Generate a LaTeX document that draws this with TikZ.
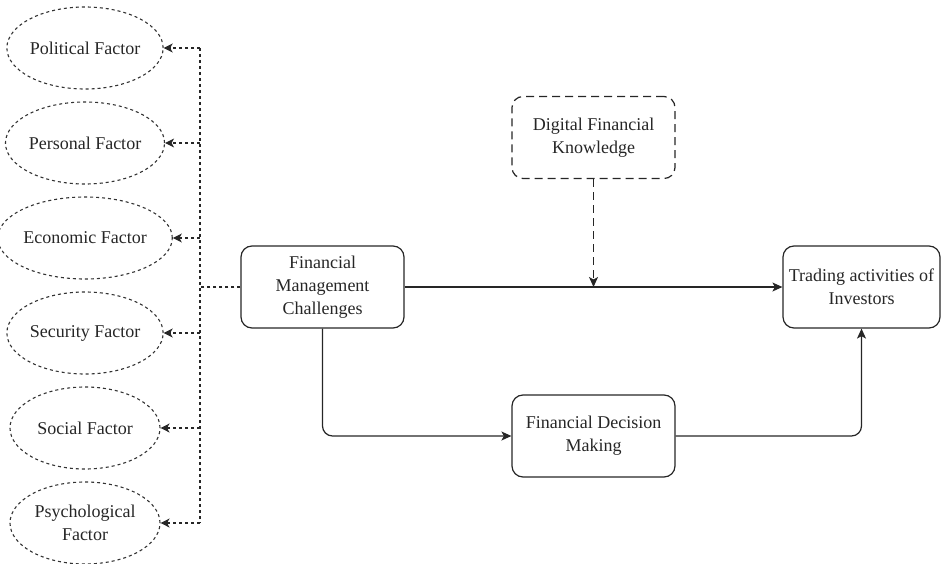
\documentclass[tikz,border=0pt]{standalone}
\usepackage{fontspec}
\setmainfont{Liberation Serif}
\usetikzlibrary{arrows.meta,shapes.geometric,calc}
\begin{document}
\begin{tikzpicture}[x=1pt,y=-1pt,
  txt/.style={font=\fontsize{18}{23}\selectfont, align=center, text=black!85},
  factor/.style={txt, draw=black!80, ellipse, dash pattern=on 3pt off 3pt, line width=1.1pt, minimum width=150pt, minimum height=82pt, inner sep=0pt},
  box/.style={txt, draw=black!85, rounded corners=11pt, line width=1.2pt, minimum width=163pt, minimum height=82pt, inner sep=2pt},
  dbox/.style={box, dash pattern=on 8pt off 5pt},
  link/.style={line width=1.2pt, draw=black!85, -{Stealth[length=10pt,width=9pt,inset=2.5pt]}},
  dlink/.style={line width=1.1pt, draw=black!85, dash pattern=on 3pt off 3pt, -{Stealth[length=9pt,width=9pt,inset=2.5pt]}}
]
\useasboundingbox (0,0) rectangle (942,564);

\node[factor] (pol) at (85,48) {Political Factor};
\node[factor] (per) at (85,143) {Personal Factor};
\node[factor] (eco) at (85,238) {Economic Factor};
\node[factor] (sec) at (85,333) {Security Factor};
\node[factor] (soc) at (85,428) {Social Factor};
\node[factor] (psy) at (85,523) {Psychological\\Factor};

\node[box] (fmc) at (322.5,287) {Financial\\Management\\Challenges};
\node[box, minimum width=157pt] (trd) at (861.5,287) {Trading activities of\\Investors};
\node[dbox] (dfk) at (593.5,137.5) {Digital Financial\\Knowledge};
\node[box] (fdm) at (593.5,436) {Financial Decision\\Making};

\coordinate (bus) at (200,287);
\coordinate (btop) at (200,48);
\coordinate (bbot) at (200,523);

\draw[line width=1.1pt, draw=black!85, dash pattern=on 3pt off 3pt] (fmc.west) -- (bus);
\draw[line width=1.1pt, draw=black!85, dash pattern=on 3pt off 3pt] (btop) -- (bbot);
\foreach \n in {pol,per,eco,sec,soc,psy}{
  \draw[dlink] (\n.east -| bus) -- (\n.east);
}

\draw[link] (fmc.east) -- (trd.west);
\draw[link, dash pattern=on 8pt off 5pt] (dfk.south) -- (dfk.south |- fmc.east);
\draw[link, rounded corners=10pt] (fmc.south) -- (fmc.south |- fdm.west) -- (fdm.west);
\draw[link, rounded corners=10pt] (fdm.east) -- (fdm.east -| trd.south) -- (trd.south);
\end{tikzpicture}
\end{document}
